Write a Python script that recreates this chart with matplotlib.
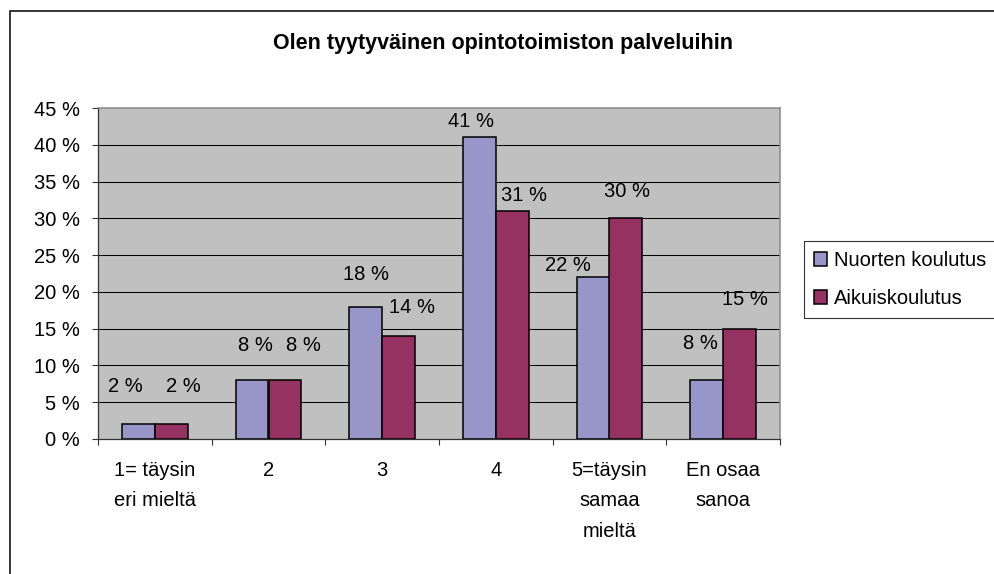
#!/usr/bin/env python3
"""
Excel-style grouped bar chart: satisfaction with the study office services.
"""

import matplotlib

matplotlib.use("Agg")
import matplotlib.pyplot as plt
import numpy as np
from matplotlib.patches import Rectangle

# Data
CATEGORIES = ["1= täysin\neri mieltä", "2", "3", "4", "5=täysin\nsamaa\nmieltä", "En osaa\nsanoa"]
SERIES_NAMES = ["Nuorten koulutus", "Aikuiskoulutus"]
NUORTEN = [2, 8, 18, 41, 22, 8]
AIKUIS = [2, 8, 14, 31, 30, 15]
Y_TICKS = [0, 5, 10, 15, 20, 25, 30, 35, 40, 45]
TITLE = "Olen tyytyväinen opintotoimiston palveluihin"

# Style constants
W, H, DPI = 995, 574, 100
BLUE = "#9896C8"
RED = "#963262"
PLOT_BG = "#C0C0C0"
BORDER_GRAY = "#8A8A8A"
TEXT = "#000000"
FONT = "Liberation Sans"
FS = 14.5
BAR_W = 0.29

# label offsets from bar top (pixels), imitating Excel's placement
BLUE_OFFS = [(-13, 38), (3, 35), (0, 32), (-8, 16), (-25, 12), (-6, 37)]
RED_OFFS = [(12, 38), (18, 35), (13, 29), (12, 15), (1, 27), (5, 29)]


def px_x(v):
    return v / W


def px_y(v):
    return 1 - v / H


def main() -> None:
    plt.rcParams["font.family"] = [FONT, "DejaVu Sans"]

    fig = plt.figure(figsize=(W / DPI, H / DPI), dpi=DPI)
    fig.patch.set_facecolor("white")

    # outer chart frame (runs off the right and bottom edges)
    fig.add_artist(Rectangle((px_x(10), -0.2), 1.3, px_y(11) + 0.2,
                             transform=fig.transFigure, fill=False,
                             edgecolor="black", linewidth=1.1, clip_on=False))

    left, right, top, bottom = 98, 780, 108, 439
    ax = fig.add_axes([px_x(left), px_y(bottom), (right - left) / W, (bottom - top) / H])
    ax.set_facecolor(PLOT_BG)

    x = np.arange(len(CATEGORIES))
    b1 = ax.bar(x - BAR_W / 2, NUORTEN, BAR_W, color=BLUE, edgecolor="black",
                linewidth=1.1, zorder=3, label=SERIES_NAMES[0])
    b2 = ax.bar(x + BAR_W / 2, AIKUIS, BAR_W, color=RED, edgecolor="black",
                linewidth=1.1, zorder=3, label=SERIES_NAMES[1])

    for xs, vals, offs in ((x - BAR_W / 2, NUORTEN, BLUE_OFFS), (x + BAR_W / 2, AIKUIS, RED_OFFS)):
        for xi, v, (dx, dy) in zip(xs, vals, offs):
            ax.annotate(f"{v} %", xy=(xi, v), xytext=(dx, dy), textcoords="offset pixels",
                        ha="center", va="center", fontsize=FS, color=TEXT, zorder=4)

    ax.set_xlim(-0.5, len(CATEGORIES) - 0.5)
    ax.set_ylim(0, 45)

    ax.set_yticks(Y_TICKS)
    ax.set_yticklabels([f"{t} %" for t in Y_TICKS], fontsize=FS)
    for t in Y_TICKS[1:-1]:
        ax.axhline(t, color="black", linewidth=0.75, zorder=1)

    # category boundaries carry the tick marks, labels sit in between
    ax.set_xticks(np.arange(-0.5, len(CATEGORIES), 1.0))
    ax.set_xticklabels([])
    ax.set_xticks(x, minor=True)
    ax.set_xticklabels(CATEGORIES, minor=True, fontsize=FS, linespacing=1.75, va="top")
    ax.tick_params(axis="x", which="major", direction="out", length=4.3, width=0.8, color="#333333")
    ax.tick_params(axis="x", which="minor", length=0, pad=16)
    ax.tick_params(axis="y", direction="out", length=4.3, width=0.8, color="#333333", pad=8.5)

    for s in ("top", "right"):
        ax.spines[s].set_color(BORDER_GRAY)
        ax.spines[s].set_linewidth(1.1)
    for s in ("left", "bottom"):
        ax.spines[s].set_color("#333333")
        ax.spines[s].set_linewidth(0.9)

    fig.text(px_x(503), px_y(43), TITLE, ha="center", va="center",
             fontsize=15.5, fontweight="bold", color=TEXT)

    # legend box is wider than the figure, as in the original cropped chart
    leg = fig.legend(handles=[b1, b2], loc="upper left", mode="expand",
                     bbox_to_anchor=(px_x(804), px_y(317), px_x(220), (317 - 241) / H),
                     fontsize=FS, frameon=True, fancybox=False, borderpad=0.5,
                     handlelength=0.65, handleheight=0.65, handletextpad=0.35,
                     labelspacing=0.95, borderaxespad=0)
    leg.get_frame().set_edgecolor("black")
    leg.get_frame().set_linewidth(0.8)

    fig.savefig("out.png", dpi=DPI, facecolor="white")
    plt.close(fig)


if __name__ == "__main__":
    main()
